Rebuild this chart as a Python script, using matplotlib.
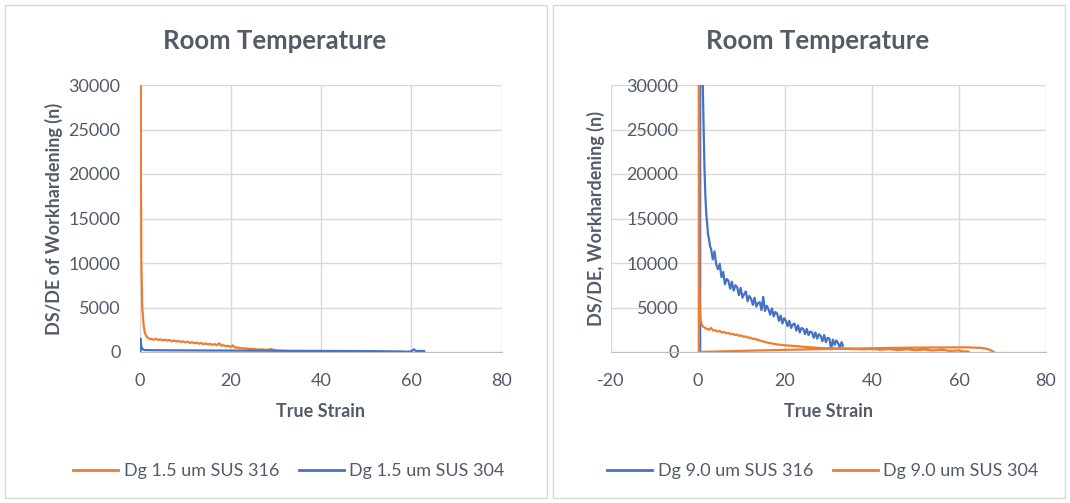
import matplotlib
matplotlib.use("Agg")
import matplotlib.pyplot as plt
from matplotlib.patches import Rectangle
from matplotlib.lines import Line2D

plt.rcParams['font.family'] = ['Lato', 'DejaVu Sans']
plt.rcParams['axes.unicode_minus'] = False

ORANGE = '#ED7D31'
BLUE = '#4472C4'
GRID = '#D9D9D9'
TXT = '#535B68'

# ---------------- data ----------------
title_text = "Room Temperature"
xlabel_text = "True Strain"
left_ylabel = "DS/DE of Workhardening (n)"
right_ylabel = "DS/DE, Workhardening (n)"

left_names = ["Dg 1.5 um SUS 316", "Dg 1.5 um SUS 304"]
right_names = ["Dg 9.0 um SUS 316", "Dg 9.0 um SUS 304"]

# Left: Dg 1.5 um SUS 316 (orange)  (strain, n)
l316 = [(0.15, 40000), (0.2, 20000), (0.3, 10000), (0.5, 5000), (0.8, 3000), (1.1, 2100),
        (1.5, 1700), (2.0, 1500), (2.5, 1450), (3.0, 1380), (3.5, 1480), (4.0, 1350),
        (4.5, 1420), (5.0, 1300), (5.5, 1390), (6.0, 1280), (6.5, 1360), (7.0, 1200),
        (7.5, 1300), (8.0, 1180), (8.5, 1260), (9.0, 1120), (9.5, 1200), (10.0, 1080),
        (10.5, 1170), (11.0, 1020), (11.5, 1110), (12.0, 980), (12.5, 1060), (13.0, 930),
        (13.5, 1010), (14.0, 880), (14.5, 960), (15.0, 850), (15.5, 920), (16.0, 800),
        (16.5, 880), (17.0, 760), (17.5, 980), (18.0, 700), (18.5, 760), (19.0, 640),
        (19.5, 700), (20.0, 560), (20.5, 740), (21.0, 480), (21.5, 520), (22.0, 430),
        (23.0, 420), (24.0, 360), (25.0, 340), (26.0, 280), (27.0, 290), (28.0, 230),
        (29.0, 330), (30.0, 170), (31.0, 150), (32.0, 130), (33.0, 100), (34.0, 80),
        (35.0, 60), (36.0, 40), (37.0, 20), (38.0, 0)]

# Left: Dg 1.5 um SUS 304 (blue)
l304 = [(0.1, 0), (0.1, 1500), (0.3, 600), (0.6, 300), (1, 220), (3, 200), (5, 190),
        (10, 180), (20, 160), (30, 140), (40, 120), (50, 100), (58, 60), (59, 30),
        (60, 80), (60.5, 300), (61, 100), (62, 120), (62.8, 110)]

# Right: Dg 9.0 um SUS 316 (blue)
r316 = [(0.5, 0), (0.5, 40000), (1.0, 40000), (1.1, 30000), (1.3, 25000), (1.5, 20500),
        (1.7, 17500), (1.9, 15500), (2.1, 14500), (2.3, 13200), (2.5, 12800), (2.8, 11800),
        (3.0, 11600), (3.4, 10400), (3.8, 11300), (4.2, 9800), (4.6, 9300), (5.0, 9900),
        (5.4, 8400), (5.8, 9000), (6.2, 7600), (6.6, 8200), (7.0, 8000), (7.4, 7100),
        (7.8, 7900), (8.2, 6900), (8.6, 7500), (9.0, 7300), (9.4, 6400), (9.8, 7200),
        (10.2, 6100), (10.6, 6500), (11.0, 6800), (11.4, 5700), (11.8, 6300), (12.2, 6000),
        (12.6, 5300), (13.0, 6100), (13.4, 5100), (13.8, 5500), (14.2, 5600), (14.6, 4700),
        (15.0, 6200), (15.4, 4600), (15.8, 5200), (16.2, 4800), (16.6, 4200), (17.0, 4900),
        (17.4, 4000), (17.8, 4500), (18.2, 4300), (18.6, 3500), (19.0, 4100), (19.4, 3200),
        (19.8, 3800), (20.2, 3500), (20.6, 2900), (21.0, 3500), (21.4, 2700), (21.8, 3100),
        (22.2, 3200), (22.6, 2400), (23.0, 3000), (23.4, 2200), (23.8, 2700), (24.2, 2600),
        (24.6, 2000), (25.0, 2600), (25.4, 1900), (25.8, 2300), (26.2, 2200), (26.6, 1600),
        (27.0, 2200), (27.4, 1500), (27.8, 2000), (28.2, 1800), (28.6, 1200), (29.0, 1900),
        (29.4, 1100), (29.8, 1600), (30.2, 1500), (30.6, 300), (31.0, 1400), (31.4, 800),
        (31.8, 1300), (32.2, 1000), (32.6, 500), (33.0, 1100), (33.3, 700)]

# Right: Dg 9.0 um SUS 304 (orange)
r304 = [(68, 0), (67.5, 150), (66.5, 350), (65, 470), (62, 520), (55, 510), (50, 490),
        (45, 460), (40, 420), (30, 340), (20, 240), (10, 130), (3, 40), (0.2, 0), (0.2, 40000),
        (0.3, 8000), (0.4, 5000), (0.6, 3600), (0.9, 3000), (1.3, 2800), (1.8, 2650),
        (2.5, 2500), (3.0, 2700), (3.5, 2400), (4.0, 2450), (4.5, 2300), (5.0, 2350),
        (5.5, 2200), (6.0, 2250), (6.5, 2100), (7.0, 2150), (7.5, 2000), (8.0, 2050),
        (8.5, 1900), (9.0, 1950), (9.5, 1820), (10.0, 1850), (10.5, 1700), (11.0, 1750),
        (11.5, 1600), (12.0, 1620), (12.5, 1480), (13.0, 1500), (13.5, 1380), (14.0, 1350),
        (14.5, 1250), (15.0, 1180), (15.5, 1120), (16.0, 1050), (16.5, 1000), (17.0, 950),
        (18.0, 870), (19.0, 800), (20.0, 750), (21.0, 720), (22.0, 680), (23.0, 640),
        (24.0, 600), (25.0, 560), (26.0, 520), (28.0, 450), (30.0, 420), (32.0, 380),
        (34.0, 360), (36.0, 330), (38.0, 300), (40.0, 340), (42.0, 250), (44.0, 320),
        (46.0, 220), (48.0, 300), (50.0, 200), (52.0, 280), (54.0, 170), (56.0, 250),
        (58.0, 120), (60.0, 180), (61.0, 60), (62.0, 80), (62.2, 30)]

y_ticks = [0, 5000, 10000, 15000, 20000, 25000, 30000]
left_xticks = [0, 20, 40, 60, 80]
right_xticks = [-20, 0, 20, 40, 60, 80]

def xs(pts):
    return [p[0] for p in pts]

def ys(pts):
    return [p[1] for p in pts]

# ---------------- figure ----------------
fig = plt.figure(figsize=(10.70, 5.03), dpi=100)

for (x0, x1) in [(5, 547), (553, 1065)]:
    fig.patches.append(Rectangle((x0 / 1070, 5 / 503), (x1 - x0) / 1070, 493 / 503,
                                 transform=fig.transFigure, fill=False,
                                 edgecolor=GRID, linewidth=1.0))

def style(ax, xticks, xlim):
    ax.set_xlim(*xlim)
    ax.set_ylim(0, 30000)
    ax.set_xticks(xticks)
    ax.set_yticks(y_ticks)
    ax.grid(True, color=GRID, linewidth=1.0)
    ax.set_axisbelow(True)
    for s in ['top', 'right', 'left']:
        ax.spines[s].set_visible(False)
    ax.spines['bottom'].set_color('#BFBFBF')
    ax.tick_params(axis='y', length=0, labelsize=13, colors=TXT, pad=14)
    ax.tick_params(axis='x', length=0, labelsize=13, colors=TXT, pad=15)
    ax.set_facecolor('none')

axL = fig.add_axes([140 / 1070, (503 - 352) / 503, 362 / 1070, 267 / 503])
style(axL, left_xticks, (0, 80))
axL.plot(xs(l316), ys(l316), color=ORANGE, lw=1.6)
axL.plot(xs(l304), ys(l304), color=BLUE, lw=1.6)
axL.set_xlabel(xlabel_text, fontsize=13, fontweight='bold', color=TXT, labelpad=10)
axL.set_ylabel(left_ylabel, fontsize=13, fontweight='bold', color=TXT, labelpad=4)

axR = fig.add_axes([611 / 1070, (503 - 352) / 503, 435 / 1070, 267 / 503])
style(axR, right_xticks, (-20, 80))
# vertical axis crosses the horizontal axis at strain = 0 (labels sit next to it)
axR.spines['left'].set_position(('data', 0))
axR.plot(xs(r316), ys(r316), color=BLUE, lw=1.6)
axR.plot(xs(r304), ys(r304), color=ORANGE, lw=1.6)
axR.set_xlabel(xlabel_text, fontsize=13, fontweight='bold', color=TXT, labelpad=10)
axR.set_ylabel(right_ylabel, fontsize=13, fontweight='bold', color=TXT)
axR.yaxis.set_label_coords(-(611 - 605) / 435, 0.5)

fig.text(275 / 1070, 1 - 41 / 503, title_text, ha='center', va='center',
         fontsize=18.5, fontweight='bold', color=TXT)
fig.text(818 / 1070, 1 - 41 / 503, title_text, ha='center', va='center',
         fontsize=18.5, fontweight='bold', color=TXT)

hL = [Line2D([], [], color=ORANGE, lw=2), Line2D([], [], color=BLUE, lw=2)]
hR = [Line2D([], [], color=BLUE, lw=2), Line2D([], [], color=ORANGE, lw=2)]
for handles, names, cx in [(hL, left_names, 289), (hR, right_names, 823)]:
    fig.legend(handles, names, loc='center', bbox_to_anchor=(cx / 1070, 1 - 471 / 503),
               ncol=2, frameon=False, fontsize=13, labelcolor=TXT,
               handlelength=2.5, handletextpad=0.3, columnspacing=1.1)

fig.savefig('out.png', dpi=100)
